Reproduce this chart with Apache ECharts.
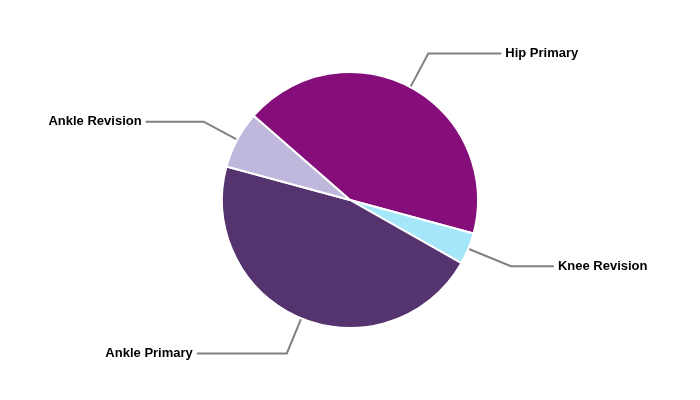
<!DOCTYPE html>
<html>
<head>
<meta charset="utf-8">
<script src="https://cdn.jsdelivr.net/npm/echarts@6/dist/echarts.min.js"></script>
<style>html,body{margin:0;padding:0;background:#fff}#c{width:700px;height:400px}</style>
</head>
<body>
<div id="c"></div>
<script>
const categories = ['Hip Primary', 'Knee Revision', 'Ankle Primary', 'Ankle Revision'];
const values = [42.8, 4.0, 46.0, 7.2];
const colors = ['#850E7A', '#A5E6FA', '#54336E', '#BFB8DC'];
const leaderLength = [38, 46, 38, 38];
const leaderLength2 = [73, 43, 90, 58];

const chart = echarts.init(document.getElementById('c'), null, {renderer: 'canvas'});
chart.setOption({
  animation: false,
  backgroundColor: '#ffffff',
  series: [{
    type: 'pie',
    center: [350, 200],
    radius: 128,
    startAngle: 138.9,
    clockwise: true,
    avoidLabelOverlap: false,
    itemStyle: {borderColor: '#ffffff', borderWidth: 2},
    label: {
      show: true,
      position: 'outside',
      color: '#000000',
      fontFamily: 'Liberation Sans, Arial, sans-serif',
      fontWeight: 'bold',
      fontSize: 13,
      distanceToLabelLine: 4
    },
    labelLine: {
      show: true,
      length: 38,
      smooth: false,
      lineStyle: {color: '#808080', width: 2}
    },
    emphasis: {disabled: true},
    data: categories.map((name, i) => ({
      name: name,
      value: values[i],
      itemStyle: {color: colors[i]},
      labelLine: {length: leaderLength[i], length2: leaderLength2[i]}
    }))
  }]
});
</script>
</body>
</html>
